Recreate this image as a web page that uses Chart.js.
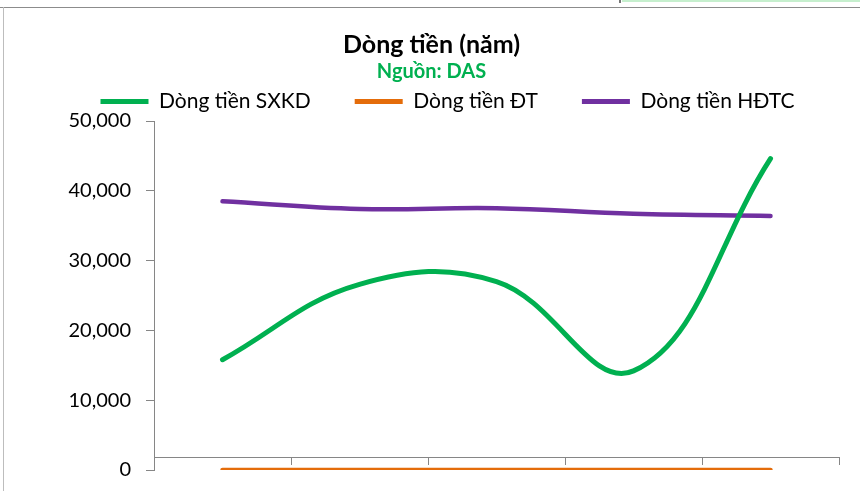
<!DOCTYPE html>
<html>
<head>
<meta charset="utf-8">
<script src="https://cdn.jsdelivr.net/npm/chart.js@4"></script>
<style>
    body { margin: 0; background: #fff; }
    #wrap { position: relative; width: 860px; height: 491px; overflow: hidden; }
    #chart { position: absolute; left: 0; top: 0; }
    .frame-top { position: absolute; left: 0; top: 7px; width: 860px; height: 1px; background: #8c8c8c; }
    .frame-left { position: absolute; left: 3px; top: 7px; width: 1px; height: 484px; background: #bdbdbd; }
    .cell-mark { position: absolute; left: 619px; top: 0; width: 2px; height: 3px; background: #777; }
    .cell-fill { position: absolute; left: 622px; top: 0; width: 238px; height: 2px; background: #c6efce; }
</style>
</head>
<body>
<div id="wrap">
    <canvas id="chart" width="860" height="497"></canvas>
    <div class="frame-top"></div>
    <div class="frame-left"></div>
    <div class="cell-mark"></div>
    <div class="cell-fill"></div>
</div>
<script>
// Dòng tiền (năm) - nguồn DAS
const years = ["2019", "2020", "2021", "2022", "2023"]
const sxkd = [15800, 26600, 27000, 14200, 44600]
const dt = [0, 0, 0, 0, 0]
const hdtc = [38500, 37400, 37500, 36700, 36400]
const yTicks = [0, 10000, 20000, 30000, 40000, 50000]

const FONT = "Lato, 'Open Sans', sans-serif"
const LEGEND_TRIM = 14

// legend in the original sits a bit right of the title and close to the plot
const legendTweak = {
    id: "legendTweak",
    beforeLayout(chart) {
        const lg = chart.legend
        if (lg && !lg._tweaked) {
            const fit = lg.fit.bind(lg)
            lg.fit = () => {
                fit()
                lg.height -= LEGEND_TRIM
            }
            lg._tweaked = true
        }
    },
    afterLayout(chart) {
        const lg = chart.legend
        lg.left += 16
        lg.right += 16
        // give the box its height back so the labels are not clipped
        lg.bottom += LEGEND_TRIM
        lg.height += LEGEND_TRIM
    },
}

document.addEventListener("DOMContentLoaded", () => {
    const ctx = document.getElementById("chart").getContext("2d")

    const series = [
        { label: "Dòng tiền SXKD", data: sxkd, color: "#00b050", width: 5 },
        { label: "Dòng tiền ĐT", data: dt, color: "#e46c0a", width: 4.5 },
        { label: "Dòng tiền HĐTC", data: hdtc, color: "#7030a0", width: 4.5 },
    ]

    new Chart(ctx, {
        type: "line",
        data: {
            labels: years,
            datasets: series.map((s) => ({
                label: s.label,
                data: s.data,
                borderColor: s.color,
                backgroundColor: s.color,
                borderWidth: s.width,
                borderCapStyle: "round",
                pointRadius: 0,
                tension: 0.4,
                fill: false,
            })),
        },
        plugins: [legendTweak],
        options: {
            responsive: false,
            animation: false,
            devicePixelRatio: 1,
            layout: { padding: { left: 24, right: 21, top: 0, bottom: 0 } },
            plugins: {
                title: {
                    display: true,
                    text: "Dòng tiền (năm)",
                    color: "#000",
                    font: { family: FONT, size: 25, weight: "bold" },
                    padding: { top: 30, bottom: 0 },
                },
                subtitle: {
                    display: true,
                    text: "Nguồn: DAS",
                    color: "#00b050",
                    font: { family: FONT, size: 20, weight: "bold" },
                    padding: { top: 0, bottom: -37 },
                },
                legend: {
                    position: "top",
                    labels: {
                        color: "#000",
                        font: { family: FONT, size: 21 },
                        boxWidth: 48,
                        boxHeight: 5,
                        padding: 44,
                        generateLabels: (chart) =>
                            Chart.defaults.plugins.legend.labels.generateLabels(chart).map((item) => ({ ...item, lineWidth: 0 })),
                    },
                },
                tooltip: { enabled: false },
            },
            scales: {
                x: {
                    offset: true,
                    grid: { offset: true, drawOnChartArea: false, tickLength: 8, color: "#868686" },
                    border: { color: "#868686" },
                    ticks: { display: false },
                },
                y: {
                    min: 0,
                    max: 50000,
                    afterBuildTicks: (scale) => { scale.ticks = yTicks.map((v) => ({ value: v })) },
                    grid: { drawOnChartArea: false, tickLength: 8, color: "#868686" },
                    border: { color: "#868686" },
                    ticks: {
                        color: "#000",
                        padding: 15,
                        font: { family: FONT, size: 20 },
                        callback: (v) => v.toLocaleString("en-US"),
                    },
                    afterFit: (scale) => { scale.width = 130 },
                },
            },
        },
    })
})
</script>
</body>
</html>
